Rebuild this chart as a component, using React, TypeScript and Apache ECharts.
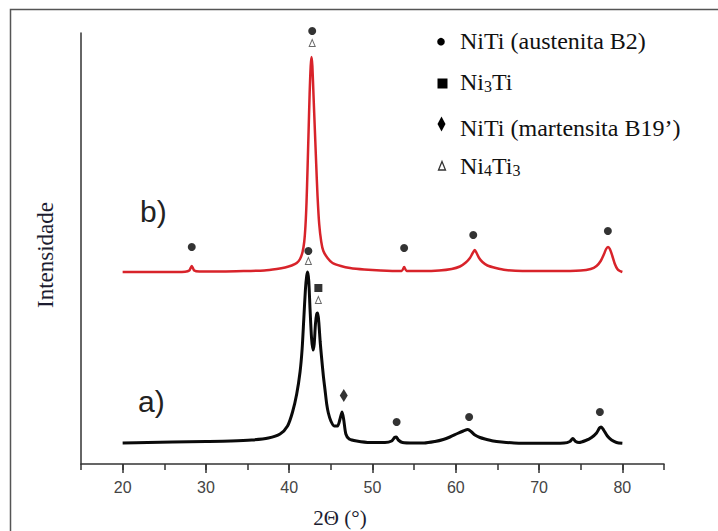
import React, { useEffect, useRef } from "react";
import * as echarts from "echarts";

// 2θ tick labels
const tickLabels = [20, 30, 40, 50, 60, 70, 80];

// Pattern b) (red), [2θ, intensity]
const patternB: number[][] = [
  [20, 192], [22, 192], [25, 192], [27.5, 192.3], [28.0, 193.5], [28.3, 198], [28.6, 193.5],
  [29.2, 192.5], [32, 192.5], [35, 193], [37, 193.5], [38.5, 195], [39.5, 196.5], [40.3, 198.5],
  [40.9, 201], [41.3, 205], [41.6, 212], [41.8, 222], [41.95, 238], [42.08, 262], [42.2, 295],
  [42.33, 334], [42.45, 370], [42.58, 398], [42.68, 407], [42.78, 398], [42.92, 368], [43.08, 334],
  [43.24, 300], [43.4, 268], [43.6, 240], [43.85, 222], [44.1, 213], [44.6, 206], [45.2, 201],
  [46.2, 198], [47.3, 196], [49, 194.5], [51, 193.5], [53.5, 193], [53.8, 197], [54.1, 193],
  [56, 193], [58, 193.5], [59.5, 195], [60.5, 197.5], [61.2, 201.5], [61.7, 206], [62.0, 210.5],
  [62.28, 214], [62.5, 211], [62.8, 206], [63.2, 202], [63.8, 198.5], [64.8, 196], [66, 194],
  [68, 193], [72, 193], [75, 193.5], [76.2, 195], [76.9, 198], [77.4, 203], [77.8, 210],
  [78.05, 215], [78.28, 217], [78.5, 215], [78.8, 208], [79.1, 200], [79.4, 195], [79.7, 193],
  [80, 192],
];

// Pattern a) (black), [2θ, intensity]
const patternA: number[][] = [
  [20, 21], [23, 21.5], [26, 22], [30, 22.5], [33, 23], [35.5, 24], [37.5, 26], [38.9, 30],
  [39.8, 38], [40.4, 52], [40.9, 70], [41.3, 92], [41.55, 115], [41.75, 145], [41.95, 175],
  [42.1, 188], [42.22, 192], [42.35, 183], [42.5, 155], [42.68, 126], [42.85, 114], [43.0, 120],
  [43.15, 140], [43.3, 150], [43.42, 151], [43.55, 142], [43.72, 122], [43.88, 107], [44.1, 88],
  [44.3, 74], [44.5, 60], [44.7, 51], [45.0, 43], [45.4, 38], [45.8, 38], [46.1, 45], [46.35, 52],
  [46.55, 44], [46.8, 30], [47.2, 25], [48.1, 23], [49.7, 21.5], [51.5, 21.5], [52.3, 23],
  [52.65, 26.5], [52.85, 27], [53.1, 24], [53.6, 21.5], [55, 21], [56.2, 21], [57.5, 22.5],
  [58.5, 24.5], [59.3, 27], [60.2, 30.5], [60.9, 33], [61.45, 34.5], [61.9, 32], [62.3, 29],
  [62.9, 26.5], [63.5, 25], [64.5, 23], [65.5, 22], [67, 21], [70, 20.7], [73, 21], [73.7, 22.5],
  [74.05, 25.5], [74.4, 22.5], [74.8, 21.5], [75.6, 23.5], [76.3, 26.5], [76.9, 31], [77.25, 36],
  [77.45, 37], [77.75, 34], [78.2, 28], [78.7, 24], [79.3, 21.5], [80, 20.7],
];

// Phase markers, [2θ, position]
const austeniteB2: number[][] = [
  [28.3, 217], [42.76, 433], [53.8, 216], [62.1, 229], [78.26, 233],
  [42.3, 213], [52.9, 42], [61.6, 47], [77.3, 52],
];
const ni3ti: number[][] = [[43.5, 176]];
const martensiteB19: number[][] = [[46.55, 68.5]];
const ni4ti3: number[][] = [[42.76, 421], [42.3, 203], [43.5, 164]];

const legendNames = ["NiTi (austenita B2)", "Ni{s|3}Ti", "NiTi (martensita B19’)", "Ni{s|4}Ti{s|3}"];

const SERIF = "'Liberation Serif', 'Times New Roman', serif";
const SANS = "'Liberation Sans', Arial, sans-serif";

export default function App() {
  const ref = useRef<HTMLDivElement>(null);
  useEffect(() => {
    if (!ref.current) return;
    const chart = echarts.init(ref.current, undefined, { renderer: "svg" });
    const legendRows = [41, 82, 128, 166];
    const richSub = { s: { fontSize: 16, fontFamily: SERIF, fill: "#111", verticalAlign: "bottom" } };
    const option: any = {
      animation: false,
      backgroundColor: "#fff",
      grid: { left: 81, right: 54, top: 33, bottom: 67 },
      xAxis: [
        {
          type: "value",
          min: 15,
          max: 85,
          interval: 5,
          axisLine: { show: true, lineStyle: { color: "#333", width: 1.5 } },
          axisTick: { show: true, length: 6, lineStyle: { color: "#333", width: 1.5 } },
          axisLabel: {
            show: true,
            margin: 15,
            fontSize: 16,
            fontFamily: SANS,
            color: "#444",
            formatter: (v: number) => (tickLabels.indexOf(v) >= 0 ? String(v) : ""),
          },
          splitLine: { show: false },
        },
        {
          type: "value",
          position: "bottom",
          offset: 0,
          min: 15,
          max: 85,
          interval: 5,
          axisLine: { show: false },
          axisTick: {
            show: true,
            length: 9,
            customValues: tickLabels,
            lineStyle: { color: "#333", width: 1.5 },
          },
          axisLabel: { show: false },
          splitLine: { show: false },
        },
      ],
      yAxis: {
        type: "value",
        min: 0,
        max: 431,
        axisLine: { show: true, lineStyle: { color: "#333", width: 1.5 } },
        axisTick: { show: false },
        axisLabel: { show: false },
        splitLine: { show: false },
      },
      series: [
        {
          name: "b)",
          type: "line",
          data: patternB,
          showSymbol: false,
          smooth: 0.25,
          lineStyle: { color: "#d8232a", width: 2.5 },
          z: 2,
        },
        {
          name: "a)",
          type: "line",
          data: patternA,
          showSymbol: false,
          smooth: 0.25,
          lineStyle: { color: "#0a0a0a", width: 3 },
          z: 2,
        },
        {
          name: "NiTi (austenita B2)",
          type: "scatter",
          data: austeniteB2,
          symbol: "circle",
          symbolSize: 8,
          clip: false,
          itemStyle: { color: "#000" },
          z: 5,
        },
        {
          name: "Ni3Ti",
          type: "scatter",
          data: ni3ti,
          symbol: "rect",
          symbolSize: 8,
          clip: false,
          itemStyle: { color: "#000" },
          z: 5,
        },
        {
          name: "NiTi (martensita B19’)",
          type: "scatter",
          data: martensiteB19,
          symbol: "diamond",
          symbolSize: [8, 13],
          clip: false,
          itemStyle: { color: "#000" },
          z: 5,
        },
        {
          name: "Ni4Ti3",
          type: "scatter",
          data: ni4ti3,
          symbol: "triangle",
          symbolSize: [6, 7],
          clip: false,
          itemStyle: { color: "#fff", borderColor: "#444", borderWidth: 1 },
          z: 5,
        },
      ],
      graphic: [
        {
          type: "rect",
          shape: { x: 10.5, y: 9.5, width: 730, height: 540 },
          style: { fill: "none", stroke: "#555", lineWidth: 1.5 },
          silent: true,
          z: 0,
        },
        {
          type: "text",
          x: 140,
          y: 211,
          style: { text: "b)", font: `30px ${SANS}`, fill: "#222", textAlign: "left", textVerticalAlign: "middle" },
        },
        {
          type: "text",
          x: 138,
          y: 401,
          style: { text: "a)", font: `30px ${SANS}`, fill: "#222", textAlign: "left", textVerticalAlign: "middle" },
        },
        {
          type: "text",
          x: 45,
          y: 255,
          rotation: Math.PI / 2,
          style: { text: "Intensidade", font: `23px ${SERIF}`, fill: "#1c1c30", textAlign: "center", textVerticalAlign: "middle" },
        },
        {
          type: "text",
          x: 340,
          y: 518,
          style: { text: "2Θ (°)", font: `21px ${SERIF}`, fill: "#1c1c30", textAlign: "center", textVerticalAlign: "middle" },
        },
        // legend markers
        { type: "circle", shape: { cx: 441, cy: 41.7, r: 3.8 }, style: { fill: "#000" } },
        { type: "rect", shape: { x: 437.5, y: 78.5, width: 10, height: 10 }, style: { fill: "#000" } },
        {
          type: "polygon",
          shape: { points: [[441.5, 116.5], [445.5, 124], [441.5, 131.5], [437.5, 124]] },
          style: { fill: "#000" },
        },
        {
          type: "polygon",
          shape: { points: [[442, 161.5], [445.5, 170], [438.5, 170]] },
          style: { fill: "#fff", stroke: "#333", lineWidth: 1.3 },
        },
        // legend texts
        ...legendNames.map((t, i) => ({
          type: "text",
          x: 460,
          y: legendRows[i],
          style: {
            text: t,
            fontSize: 24,
            fontFamily: SERIF,
            fill: "#111",
            textAlign: "left",
            textVerticalAlign: "middle",
            rich: richSub,
          },
        })),
      ],
    };
    chart.setOption(option);
    return () => chart.dispose();
  }, []);
  return <div ref={ref} style={{ position: "fixed", left: 0, top: 0, width: 718, height: 531 }} />;
}
